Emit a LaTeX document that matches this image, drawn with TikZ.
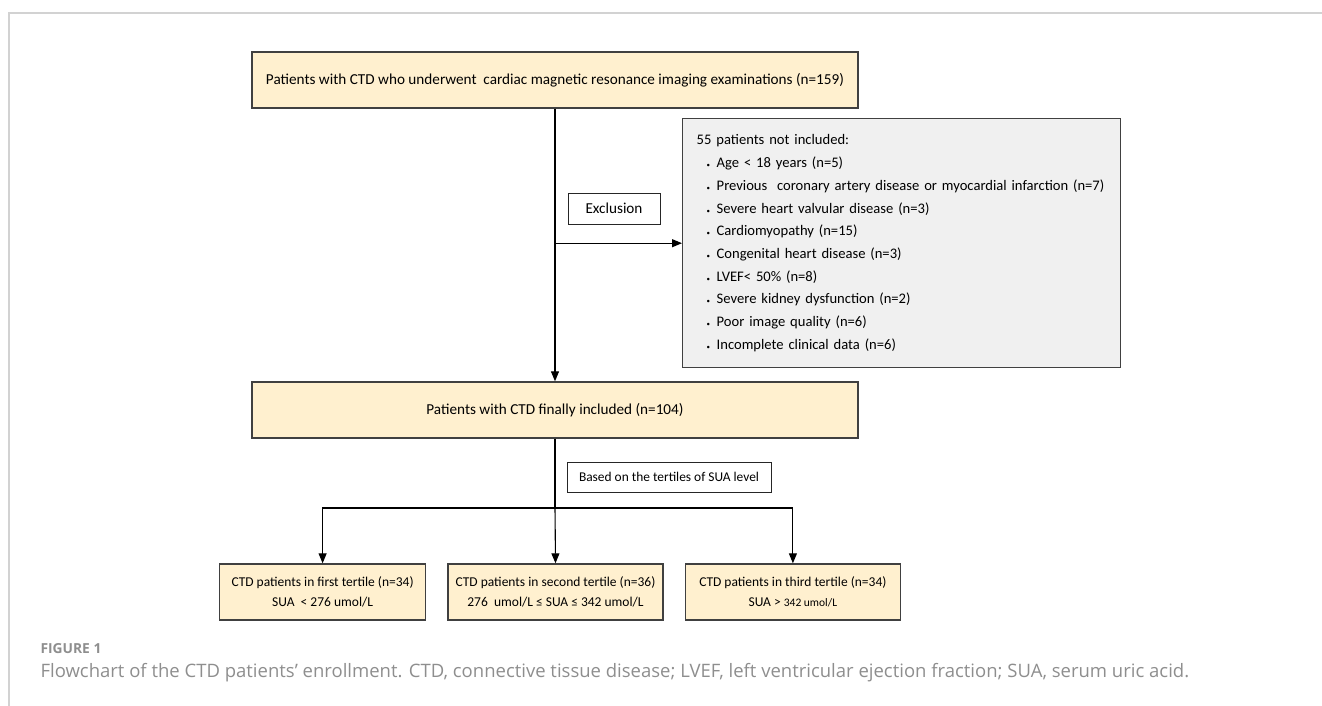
\documentclass[tikz,border=0pt]{standalone}
\usepackage{fontspec}
\setmainfont{Carlito}
\newfontfamily\capfont{Open Sans}
\usetikzlibrary{arrows.meta,positioning}
\definecolor{boxyellow}{HTML}{FFF0CF}
\definecolor{boxgray}{HTML}{F0F0F0}
\definecolor{capgray}{HTML}{8E8E8E}
\definecolor{framegray}{HTML}{D2D2D2}
\newcommand{\exitem}{\hspace*{10pt}\makebox[10pt][l]{\scriptsize\textbullet}}

\begin{document}
\begin{tikzpicture}[x=1pt, y=-1pt, line width=1.1pt, >={Triangle[length=10pt,width=8pt]},
        every node/.append style={font=\fontsize{15.2}{18}\selectfont, inner sep=0pt}]
      \tikzstyle{stage} = [draw=black!75, fill=boxyellow, line width=1.4pt, minimum width=606pt, minimum height=56pt]
      \tikzstyle{tertile} = [draw=black!75, fill=boxyellow, line width=1.4pt, minimum width=215pt, minimum height=56pt,
        align=center, font=\fontsize{13.5}{20}\selectfont]
      \tikzstyle{note} = [draw=black!85, fill=white, line width=1pt, minimum height=31pt]
      \useasboundingbox (0,0) rectangle (1322,706);
      \draw[framegray, line width=1.5pt] (9,706) -- (9,13) -- (1322,13);
      \node (screened) [stage] at (555,80) {Patients with CTD who underwent\ \ cardiac magnetic resonance imaging examinations (n=159)};
      \node (included) [stage] at (555,410) {Patients with CTD finally included (n=104)};
      \node (excluded) [draw=black!75, fill=boxgray, line width=1.4pt, anchor=north west, minimum width=438pt, minimum height=249pt,
        text width=410pt, inner xsep=14pt, align=left, font=\fontsize{14.6}{22.7}\selectfont] at (682,118)
        {55 patients not included:\\
        \exitem Age < 18 years (n=5)\\
        \exitem Previous\ \ coronary artery disease or myocardial infarction (n=7)\\
        \exitem Severe heart valvular disease (n=3)\\
        \exitem Cardiomyopathy (n=15)\\
        \exitem Congenital heart disease (n=3)\\
        \exitem LVEF< 50\% (n=8)\\
        \exitem Severe kidney dysfunction (n=2)\\
        \exitem Poor image quality (n=6)\\
        \exitem Incomplete clinical data (n=6)};
      \node (exclusion) [note, minimum width=92pt] at (614,208.5) {Exclusion};
      \node (tertiles) [note, minimum width=204pt, minimum height=30pt, font=\fontsize{13.4}{16}\selectfont] at (669,477) {Based on the tertiles of SUA level};
      \node (second) [tertile] at (555.5,592) {CTD patients in second tertile (n=36)\\276\ \ umol/L ≤ SUA ≤ 342 umol/L};
      \node (first) [tertile, minimum width=206pt, left=21pt of second] {CTD patients in first tertile (n=34)\\SUA\ \ < 276 umol/L};
      \node (third) [tertile, right=21pt of second] {CTD patients in third tertile (n=34)\\SUA > {\fontsize{11.5}{14}\selectfont 342 umol/L}};
      \coordinate (fork) at (555,508);
      \draw[->] (screened.south) -- (included.north);
      \draw[->] (screened.south |- excluded.west) -- (excluded.west);
      \draw (included.south) -- (fork);
      \draw[->] (fork) -- (second.north);
      \draw[->] (fork) -| (first.north);
      \draw[->] (fork) -| (third.north);
      \node (figlabel) [anchor=west, text=capgray, font=\capfont\bfseries\fontsize{13.8}{16}\selectfont] at (40,649) {FIGURE 1};
      \node (caption) [anchor=west, text=capgray, font=\capfont\fontsize{18.5}{22}\selectfont] at (40,673)
        {Flowchart of the CTD patients’ enrollment. CTD, connective tissue disease; LVEF, left ventricular ejection fraction; SUA, serum uric acid.};
    \end{tikzpicture}
\end{document}
